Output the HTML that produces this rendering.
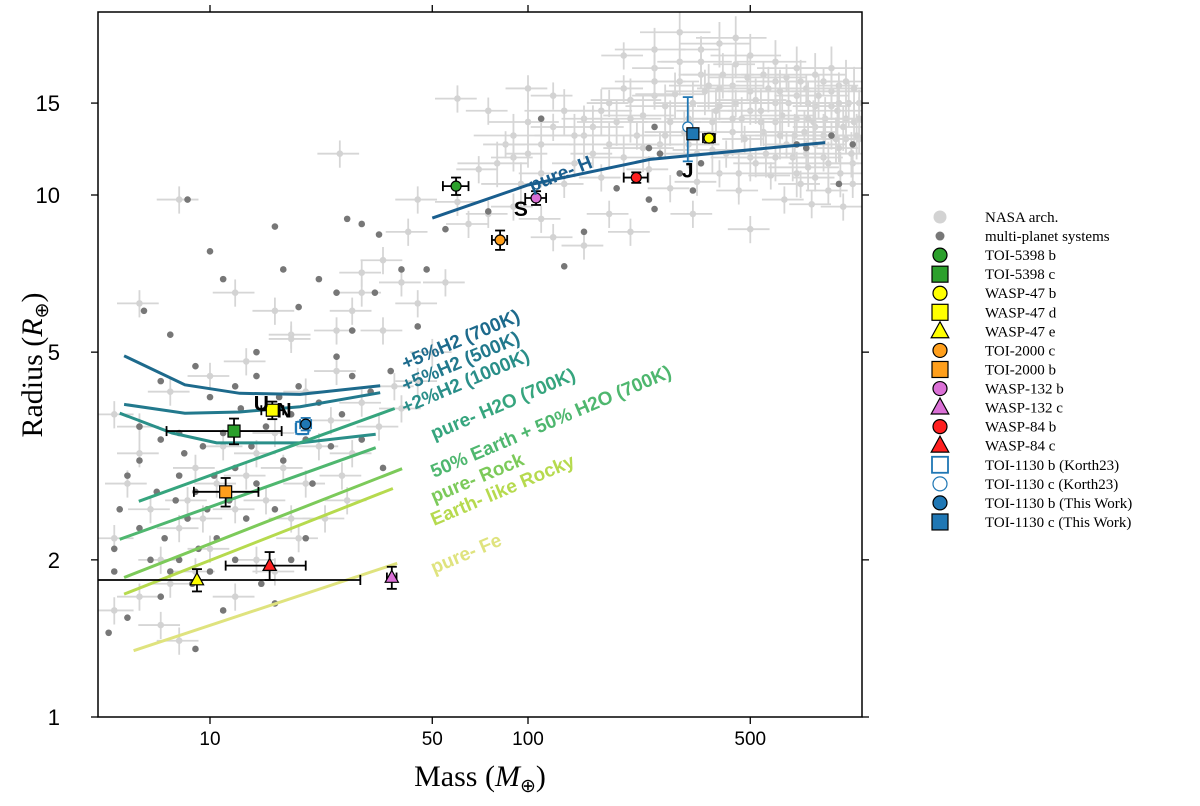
<!DOCTYPE html>
<html><head><meta charset="utf-8"><style>
body{margin:0;background:#fff}
svg{display:block}
.t{font-family:"Liberation Sans",sans-serif}
.s{font-family:"Liberation Serif",serif}
</style></head><body>
<svg id="c" width="1200" height="806" viewBox="0 0 1200 806" xmlns="http://www.w3.org/2000/svg">
<defs><clipPath id="pc"><rect x="98" y="12" width="764" height="705"/></clipPath></defs>
<g id="bg" clip-path="url(#pc)"></g>
<g id="curves" clip-path="url(#pc)"></g>
<g id="pl" clip-path="url(#pc)"></g>
<rect x="98" y="12" width="764" height="705" fill="none" stroke="#000" stroke-width="1.5"/>
<g id="ax"></g>
<text class="s" x="480" y="786" font-size="30" text-anchor="middle">Mass (<tspan font-style="italic">M</tspan><tspan font-size="19" dy="6">⊕</tspan><tspan dy="-6">)</tspan></text>
<text class="s" transform="translate(42,365) rotate(-90)" font-size="30" text-anchor="middle">Radius (<tspan font-style="italic">R</tspan><tspan font-size="19" dy="6">⊕</tspan><tspan dy="-6">)</tspan></text>
<g id="lg"></g>
</svg>
<script>
const xTicks=[10,50,100,500];
const yTicks=[1,2,5,10,15];
const nasaPts=[[100,12],[120,13.5],[150,14],[180,15],[200,16],[250,15.5],[300,16.5],[350,17],[400,16],[450,15],[500,14.5],[600,15],[700,14],[800,13.5],[900,13],[1000,14],[1100,15],[220,13],[260,12.5],[320,14],[380,13.8],[420,12],[480,12.8],[550,13.2],[650,12.5],[750,12],[850,11.8],[950,12.3],[1050,11.5],[160,12],[140,11.5],[110,11],[90,11.8],[130,10.5],[170,10.8],[240,11.2],[280,10.3],[340,10.6],[400,11],[460,10.2],[520,11.5],[580,10.9],[640,9.8],[720,10.5],[780,9.6],[880,10.2],[980,9.5],[1050,10.5],[300,18],[350,19],[250,17.5],[200,18.5],[450,17.8],[550,17],[650,16.8],[750,16],[850,16.5],[950,16.2],[400,14.8],[500,15.8],[600,13.8],[700,15.5],[800,14.8],[900,14.8],[1000,12.8],[1100,12.8],[120,15.5],[100,16],[75,14.5],[60,15.3],[85,12.5],[70,11.2],[60,9.7],[65,8.8],[75,9.2],[90,9.5],[110,9],[120,8.3],[150,8],[180,9.2],[210,8.5],[330,9.2],[500,8.6],[800,10.8],[45,9.8],[42,8.5],[35,7.5],[40,6.8],[45,6.2],[30,7.1],[28,6],[55,6.8],[25,5.5],[18,5.4],[16,6],[12,6.5],[8,9.8],[6,6.2],[25.6,12],[5,2.2],[5.5,2.8],[6,3.2],[6.5,2.5],[7,2.0],[7.5,1.8],[8,2.3],[8.5,2.6],[9,3.0],[9.5,2.4],[10,2.1],[10.5,2.8],[11,3.3],[12,2.5],[13,2.9],[14,3.2],[15,2.6],[16,3.5],[17,3.0],[18,2.4],[20,2.8],[22,3.3],[24,3.7],[26,2.9],[28,3.2],[30,4.0],[34,3.6],[38,4.3],[25,4.6],[20,4.2],[6,1.7],[7,1.5],[8,1.4],[5,1.6],[9,1.9],[12,1.7],[14,2.0],[16,1.9],[19,2.2],[23,2.4],[27,2.6],[6,3.6],[5,3.8],[7.5,4.2],[10,4.5],[13,4.8],[18,5.3],[40,3.9],[45,4.4],[50,5.0],[35,5.5],[30,6.5]];
const denseGiants=[[150,13],[170,14.5],[190,13.8],[210,15.2],[230,14.2],[250,16.5],[270,14.8],[290,15.6],[310,13.2],[330,15],[360,15.8],[390,14.5],[410,17],[440,16.2],[470,14],[490,16.8],[520,15.2],[540,13.8],[570,16],[600,16.5],[630,14.2],[660,15],[690,13],[720,16.5],[760,15],[790,13.8],[820,15.5],[860,14],[900,15.8],[940,14.5],[980,13.5],[1020,15],[1060,13.8],[1100,14],[1000,16.5],[900,17.5],[800,17],[700,17.5],[600,18],[500,18.5],[400,19.5],[450,20],[350,18],[300,20.5],[250,19],[320,12.5],[380,12.2],[440,13.2],[500,11.8],[560,12],[620,13],[680,11.8],[740,13.2],[800,12.5],[880,11.5],[960,11],[1040,12],[180,12.5],[200,11.8],[230,12.3],[160,13.5],[140,13],[130,14.5],[110,12.5],[100,13.8],[90,13],[80,11.5],[95,10.5],[280,13.8],[340,12],[460,11],[600,11.8],[700,11],[760,11.3],[850,13],[930,12.8],[1080,13],[540,14.5],[440,14],[370,16.2],[270,13],[210,14],[620,15.8],[760,14],[950,15],[1060,16]];
const multiPts=[[110,14],[250,13.5],[240,12.3],[260,12],[300,11],[350,11.5],[330,10.2],[700,12.5],[750,12.3],[900,13],[1050,12.5],[950,10.5],[190,10.3],[240,9.8],[250,9.4],[150,8.5],[130,7.3],[75,9.3],[55,8.6],[30,8.8],[27,9.0],[16,8.7],[17,7.2],[22,6.9],[33,6.5],[34,8.4],[28,5.5],[37,4.6],[45,5.6],[48,7.2],[40,7.2],[8.5,9.8],[6.2,6.0],[10,7.8],[11,6.9],[7.5,5.4],[19,6.1],[14,5.0],[25,6.5],[5,2.1],[5.2,2.5],[5.5,2.9],[6,3.1],[6,2.3],[6.5,2.0],[6.8,2.7],[7,3.4],[7.2,2.2],[7.5,1.9],[7.8,2.6],[8,2.9],[8,2.0],[8.3,3.2],[8.5,2.4],[8.8,1.8],[9,2.7],[9.2,2.1],[9.5,3.3],[9.8,2.5],[10,1.9],[10.3,2.9],[10.5,2.2],[11,3.5],[11.5,2.6],[12,3.0],[12,2.0],[12.5,3.9],[13,2.4],[13.5,3.3],[14,2.8],[14.5,1.8],[15,3.6],[16,2.5],[16.5,4.1],[17,3.1],[18,2.0],[18,3.8],[19,4.3],[20,3.4],[21,2.8],[22,4.0],[24,3.3],[26,3.8],[28,4.5],[30,3.4],[32,4.2],[12,4.3],[14,4.5],[10,4.1],[6,3.6],[4.8,1.45],[5,1.9],[9,1.35],[7,1.7],[11,1.6],[16,1.65],[5.5,1.55],[8,3.5],[7,4.4],[9,4.7],[25,4.9],[35,3.0],[20,2.2]];
const curveNames=["+5%H2 (700K)","+5%H2 (500K)","+2%H2 (1000K)","pure- H2O (700K)","50% Earth + 50% H2O (700K)","pure- Rock","Earth- like Rocky","pure- Fe","pure- H"];
const curveColors=["#1d6a8c","#22798d","#2a8f89","#36a57e","#4fb76f","#7cca5a","#b6da4e","#dfe37e","#195e8e"];
const curveM=[[5.37,8.34,12.4,19.2,34.3],[5.37,8.34,12.4,19.2,34.3],[5.2,7.6,10.5,19.2,33.2],[5.97,38.1],[5.2,33.2],[5.37,40.2],[5.37,37.6],[5.75,38.8],[50,100,242,860]];
const curveR=[[4.92,4.33,4.17,4.15,4.31],[3.97,3.82,3.84,3.93,4.18],[3.82,3.5,3.35,3.35,3.48],[2.59,3.9],[2.19,3.28],[1.85,2.99],[1.72,2.74],[1.34,1.97],[9.03,10.45,11.7,12.6]];
const labelPos=[[405,370],[405,392],[405,414],[434,440],[434,478],[434,503],[434,526],[434,574]];
const plNames=["TOI-5398 b","TOI-5398 c","WASP-47 b","WASP-47 d","WASP-47 e","TOI-2000 c","TOI-2000 b","WASP-132 b","WASP-132 c","WASP-84 b","WASP-84 c","TOI-1130 b (Korth23)","TOI-1130 c (Korth23)","TOI-1130 b (This Work)","TOI-1130 c (This Work)"];
const plM=[59.4,11.9,371,15.7,9.1,81.7,11.2,106,37.3,219,15.4,19.5,318,20,330];
const plR=[10.4,3.53,12.85,3.87,1.83,8.2,2.7,9.87,1.85,10.8,1.95,3.58,13.5,3.64,13.1];
const plMlo=[54,7.3,355,14.5,4.0,77,8.9,98,36,200,11.2,18.6,318,19.2,325];
const plMhi=[65,16.8,387,17,29.7,86,14.2,114,38.6,238,20,20.4,318,20.8,335];
const plRerr=[0.4,0.2,0.25,0.15,0.09,0.35,0.17,0.3,0.09,0.25,0.12,0.1,1.9,0.1,0.3];
const plCol=["#2ca02c","#2ca02c","#ffff00","#ffff00","#ffff00","#ff9f1c","#ff9f1c","#da70d6","#da70d6","#ff2020","#ff2020","#1f77b4","#1f77b4","#1f77b4","#1f77b4"];
const plShape=["o","s","o","s","^","o","s","o","^","o","^","s","o","o","s"];
const solarNames=["S","J","U","N"];
const solarM=[95,318,14.5,17.1];
const solarR=[9.45,11.2,4.0,3.88];

const NS="http://www.w3.org/2000/svg";
const X=m=>210+318*(Math.log10(m)-1);
const Y=r=>717-522*Math.log10(r);
function mk(tag,at,par){const e=document.createElementNS(NS,tag);for(const k in at)e.setAttribute(k,at[k]);par.appendChild(e);return e;}
const bg=document.getElementById('bg'),cv=document.getElementById('curves'),pl=document.getElementById('pl'),ax=document.getElementById('ax'),lg=document.getElementById('lg');

function drawNasa(p,fx,fy){
  const g=mk('g',{},bg);
  
  
  const x=X(p[0]),y=Y(p[1]);
  mk('line',{x1:X(p[0]*(1-fx)),x2:X(p[0]*(1+fx)),y1:y,y2:y,stroke:'#d6d6d6','stroke-width':1.8},g);
  mk('line',{x1:x,x2:x,y1:Y(p[1]*(1+fy)),y2:Y(p[1]*(1-fy)),stroke:'#d6d6d6','stroke-width':1.8},g);
  mk('circle',{cx:x,cy:y,r:3.3,fill:'#d3d3d3'},g);
}
nasaPts.forEach(p=>drawNasa(p,0.15,0.06));
denseGiants.forEach(p=>drawNasa(p,0.25,0.1));
multiPts.forEach(p=>{
  const c=mk('circle',{cx:X(p[0]),cy:Y(p[1]),r:3.3,fill:'#777'},bg);
  
  
});
const root=document.getElementById('c');
curveM.forEach((ms,i)=>{
  const d=ms.map((m,j)=>(j?'L':'M')+X(m).toFixed(1)+' '+Y(curveR[i][j]).toFixed(1)).join(' ');
  const p=mk('path',{d:d,fill:'none',stroke:curveColors[i],'stroke-width':3},cv);
  
  
  if(i<8){
    const t=mk('text',{x:labelPos[i][0],y:labelPos[i][1],fill:curveColors[i],'font-size':19,'font-weight':'bold',class:'t',transform:`rotate(-23 ${labelPos[i][0]} ${labelPos[i][1]})`},root);
    t.textContent=curveNames[i];
    
    
  }
});
const ph=mk('text',{x:532,y:192,fill:curveColors[8],'font-size':19,'font-weight':'bold',class:'t',transform:'rotate(-22 532 192)'},root);
ph.textContent='pure- H';



function marker(shape,x,y,col,filled,par,sz){
  const fill=filled?col:'#fff',st=filled?'#000':col;
  if(shape==='o')return mk('circle',{cx:x,cy:y,r:sz,fill:fill,stroke:st,'stroke-width':1.2},par);
  if(shape==='s')return mk('rect',{x:x-sz,y:y-sz,width:2*sz,height:2*sz,fill:fill,stroke:st,'stroke-width':filled?1.2:1.8},par);
  return mk('polygon',{points:`${x},${y-sz*1.2} ${x-sz*1.1},${y+sz*0.8} ${x+sz*1.1},${y+sz*0.8}`,fill:fill,stroke:st,'stroke-width':1.2},par);
}
const plFilled=[1,1,1,1,1,1,1,1,1,1,1,0,0,1,1];
plNames.forEach((n,i)=>{
  const g=mk('g',{},pl);
  
  
  const x=X(plM[i]),y=Y(plR[i]),ec=i>=11?'#1f77b4':'#000';
  const xa=X(plMlo[i]),xb=X(plMhi[i]),ya=Y(plR[i]+plRerr[i]),yb=Y(plR[i]-plRerr[i]);
  mk('line',{x1:xa,x2:xb,y1:y,y2:y,stroke:ec,'stroke-width':1.8},g);
  mk('line',{x1:x,x2:x,y1:ya,y2:yb,stroke:ec,'stroke-width':1.8},g);
  [[xa,y-5,xa,y+5],[xb,y-5,xb,y+5],[x-5,ya,x+5,ya],[x-5,yb,x+5,yb]].forEach(c=>mk('line',{x1:c[0],y1:c[1],x2:c[2],y2:c[3],stroke:ec,'stroke-width':1.8},g));
  marker(plShape[i],x,y,plCol[i],plFilled[i],g,plShape[i]==='o'?5:6);
});
solarNames.forEach((n,i)=>{
  const t=mk('text',{x:X(solarM[i]),y:Y(solarR[i])+8,'font-size':21,'font-weight':'bold',class:'t','text-anchor':'middle'},pl);
  t.textContent=n;
  
  
});
xTicks.forEach(v=>{
  const x=X(v);
  mk('line',{x1:x,x2:x,y1:717,y2:724,stroke:'#000','stroke-width':1.3},ax);
  mk('line',{x1:x,x2:x,y1:12,y2:5,stroke:'#000','stroke-width':1.3},ax);
  const t=mk('text',{x:x,y:745,'font-size':19,'text-anchor':'middle',class:'t'},ax);
  t.textContent=v;
  
  
});
yTicks.forEach(v=>{
  const y=Y(v);
  mk('line',{x1:98,x2:91,y1:y,y2:y,stroke:'#000','stroke-width':1.3},ax);
  mk('line',{x1:862,x2:869,y1:y,y2:y,stroke:'#000','stroke-width':1.3},ax);
  const t=mk('text',{x:60,y:y+8,'font-size':22,'text-anchor':'end',class:'t'},ax);
  t.textContent=v;
  
  
});
const lgNames=["NASA arch.","multi-planet systems"].concat(plNames);
lgNames.forEach((n,i)=>{
  const y=217+i*19.06;
  const g=mk('g',{},lg);
  
  
  if(i<2)mk('circle',{cx:940,cy:y,r:i?4.5:6.5,fill:i?'#777':'#d3d3d3'},g);
  else marker(plShape[i-2],940,y,plCol[i-2],plFilled[i-2],g,plShape[i-2]==='o'?7:8);
  const t=mk('text',{x:985,y:y+5,'font-size':15,class:'s'},g);
  t.textContent=n;
});
</script>
</body></html>
